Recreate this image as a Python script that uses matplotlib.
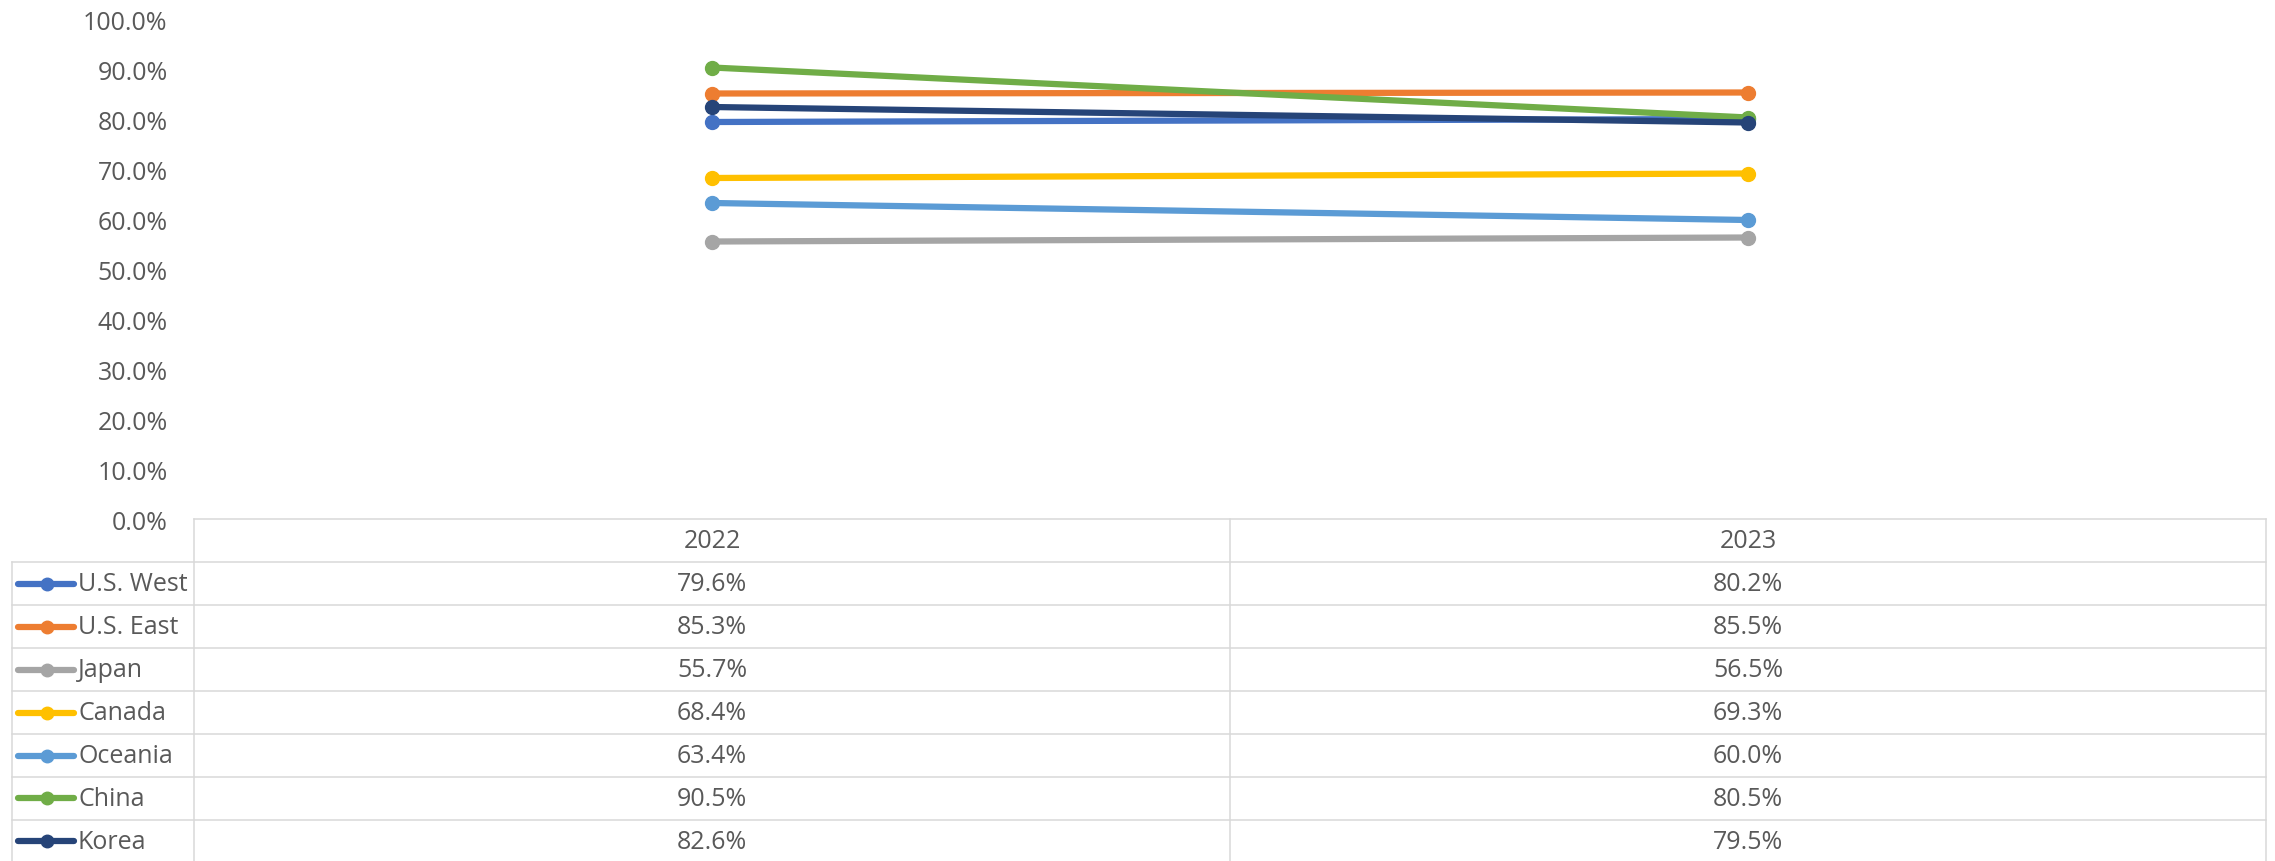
import matplotlib.pyplot as plt
from matplotlib.ticker import PercentFormatter, MultipleLocator

# Data
years = ['2022', '2023']
regions = ['U.S. West', 'U.S. East', 'Japan', 'Canada', 'Oceania', 'China', 'Korea']
us_west = [0.796, 0.802]
us_east = [0.853, 0.855]
japan = [0.557, 0.565]
canada = [0.684, 0.693]
oceania = [0.634, 0.600]
china = [0.905, 0.805]
korea = [0.826, 0.795]
series = [us_west, us_east, japan, canada, oceania, china, korea]
colors = ['#4472C4', '#ED7D31', '#A5A5A5', '#FFC000', '#5B9BD5', '#70AD47', '#264478']

W, H = 2275, 862
text_color = '#595959'
grid_color = '#D9D9D9'
plt.rcParams['font.family'] = ['Open Sans', 'DejaVu Sans']
fs = 18

fig = plt.figure(figsize=(W / 100, H / 100), dpi=100)

# plot area in pixels
left, right, top, bottom = 194, 2266, 21, 521
ax = fig.add_axes([left / W, 1 - bottom / H, (right - left) / W, (bottom - top) / H])
x = range(len(years))
for vals, c in zip(series, colors):
    ax.plot(x, vals, color=c, lw=4.5, marker='o', ms=10, solid_capstyle='round')
ax.set_xlim(-0.5, len(years) - 0.5)
ax.set_ylim(0, 1)
ax.yaxis.set_major_locator(MultipleLocator(0.1))
ax.yaxis.set_major_formatter(PercentFormatter(1, decimals=1))
ax.tick_params(axis='y', length=0, pad=19, labelsize=fs, labelcolor=text_color)
ax.set_xticks([])
for s in ax.spines.values():
    s.set_visible(False)

# data table below the plot, drawn in pixel coordinates
tax = fig.add_axes([0, 0, 1, 1])
tax.set_xlim(0, W)
tax.set_ylim(H, 0)
tax.axis('off')
leg_left = 12
row_h = 43
head_top = bottom - 1
n_rows = len(regions)
col_w = (right - left) / len(years)
line_kw = dict(color=grid_color, lw=1.1)

# horizontal lines
tax.plot([left, right], [head_top, head_top], **line_kw)
for i in range(1, n_rows + 1):
    y = head_top + i * row_h
    tax.plot([leg_left, right], [y, y], **line_kw)
# vertical lines
tax.plot([leg_left, leg_left], [head_top + row_h, H + 5], **line_kw)
for j in range(len(years) + 1):
    xv = left + j * col_w
    tax.plot([xv, xv], [head_top, H + 5], **line_kw)

# header
for j, yr in enumerate(years):
    tax.text(left + (j + 0.5) * col_w, head_top + row_h / 2, yr, ha='center', va='center',
             fontsize=fs, color=text_color)

# rows
for i, (name, vals, c) in enumerate(zip(regions, series, colors)):
    yc = head_top + (i + 1.5) * row_h
    tax.plot([18, 74], [yc, yc], color=c, lw=4.5, solid_capstyle='round')
    tax.plot([47], [yc], marker='o', ms=9, color=c)
    tax.text(78, yc, name, ha='left', va='center', fontsize=fs, color=text_color)
    for j, v in enumerate(vals):
        tax.text(left + (j + 0.5) * col_w, yc, f'{v * 100:.1f}%', ha='center', va='center',
                 fontsize=fs, color=text_color)

fig.savefig('out.png', dpi=100)
